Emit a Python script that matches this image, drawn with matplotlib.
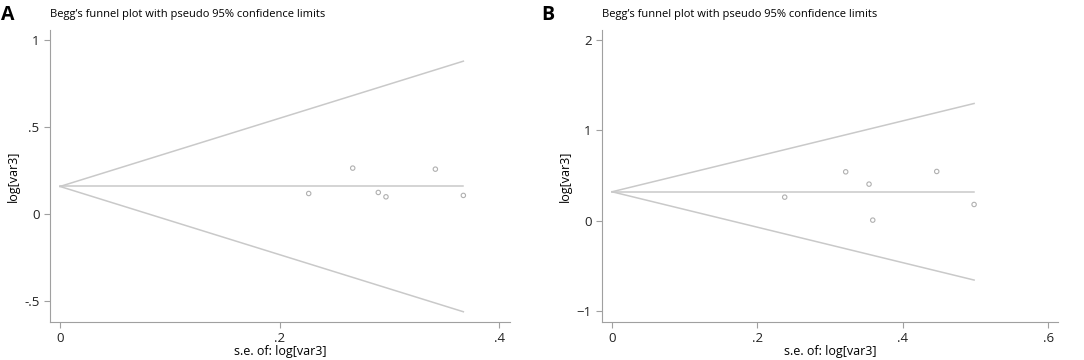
import matplotlib
matplotlib.use("Agg")
import matplotlib.pyplot as plt
import numpy as np

# panel A data
a_se = [0.2266, 0.2667, 0.290, 0.297, 0.342, 0.3675]
a_logor = [0.117, 0.263, 0.123, 0.098, 0.257, 0.106]
a_theta = 0.1575
a_xticks = [0, 0.2, 0.4]
a_xticklabels = ["0", ".2", ".4"]
a_yticks = [-0.5, 0, 0.5, 1]
a_yticklabels = ["-.5", "0", ".5", "1"]

# panel B data
b_se = [0.2375, 0.3214, 0.3535, 0.3586, 0.4466, 0.498]
b_logor = [0.262, 0.542, 0.406, 0.008, 0.546, 0.181]
b_theta = 0.3215
b_xticks = [0, 0.2, 0.4, 0.6]
b_xticklabels = ["0", ".2", ".4", ".6"]
b_yticks = [-1, 0, 1, 2]
b_yticklabels = ["\u22121", "0", "1", "2"]

TITLE = "Begg\u2019s funnel plot with pseudo 95% confidence limits"
LINE = "#c9c9c9"
SPINE = "#a0a0a0"

plt.rcParams["font.family"] = ["Open Sans", "DejaVu Sans"]


def funnel(ax, se, est, theta, xticks, xlabels, yticks, ylabels, xlim, ylim):
    se = np.asarray(se)
    est = np.asarray(est)
    smax = se.max()
    xs = np.array([0, smax])
    ax.plot(xs, theta + 1.96 * xs, color=LINE, lw=1.1)
    ax.plot(xs, theta - 1.96 * xs, color=LINE, lw=1.1)
    ax.plot(xs, [theta, theta], color=LINE, lw=1.1)
    ax.scatter(se, est, s=10, facecolors="none", edgecolors="#b0b0b0", linewidths=0.8, zorder=3)

    ax.set_xlim(*xlim)
    ax.set_ylim(*ylim)
    ax.set_xticks(xticks)
    ax.set_xticklabels(xlabels)
    ax.set_yticks(yticks)
    ax.set_yticklabels(ylabels)
    for side in ("top", "right"):
        ax.spines[side].set_visible(False)
    for side in ("left", "bottom"):
        ax.spines[side].set_color(SPINE)
        ax.spines[side].set_linewidth(0.8)
    ax.tick_params(colors=SPINE, labelcolor="#222222", labelsize=9.5, length=4, width=0.8)
    ax.set_xlabel("s.e. of: log[var3]", fontsize=9, labelpad=0)
    ax.set_ylabel("log[var3]", fontsize=9, labelpad=3)


fig = plt.figure(figsize=(10.84, 3.6), dpi=100)
ax_a = fig.add_axes([50 / 1084, 38.3 / 360, 460 / 1084, 291.7 / 360])
ax_b = fig.add_axes([602 / 1084, 38.3 / 360, 455.7 / 1084, 291.7 / 360])

funnel(ax_a, a_se, a_logor, a_theta, a_xticks, a_xticklabels, a_yticks, a_yticklabels,
       (-0.0091, 0.41), (-0.62, 1.057))
funnel(ax_b, b_se, b_logor, b_theta, b_xticks, b_xticklabels, b_yticks, b_yticklabels,
       (-0.0138, 0.613), (-1.115, 2.11))

fig.text(50 / 1084, 1 - 15 / 360, TITLE, fontsize=8, va="center", ha="left")
fig.text(602 / 1084, 1 - 15 / 360, TITLE, fontsize=8, va="center", ha="left")
fig.text(1 / 1084, 1 - 15 / 360, "A", fontsize=14, fontweight="bold", va="center", ha="left")
fig.text(541 / 1084, 1 - 15 / 360, "B", fontsize=14, fontweight="bold", va="center", ha="left")

fig.savefig("out.png", dpi=100)
